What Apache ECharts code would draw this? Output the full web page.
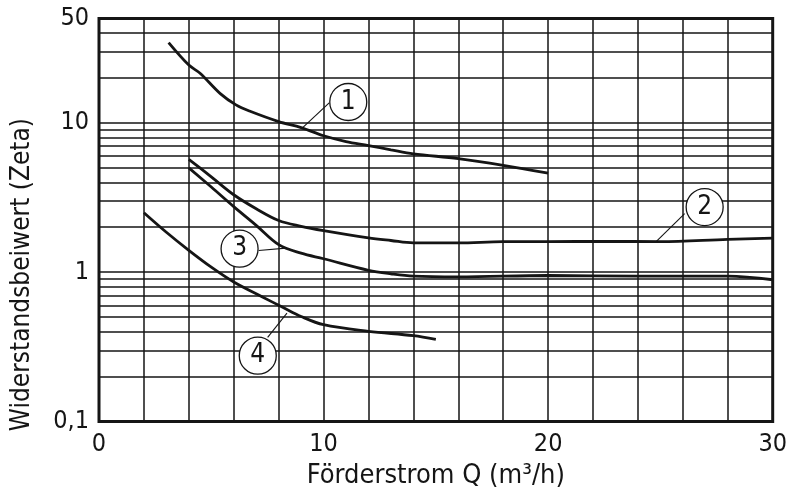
<!DOCTYPE html>
<html>
<head>
<meta charset="utf-8">
<script src="https://cdn.jsdelivr.net/npm/echarts@6/dist/echarts.min.js"></script>
<style>
  html, body { margin: 0; padding: 0; background: #fff; }
  #chart { width: 790px; height: 502px; }
</style>
</head>
<body>
<div id="chart"></div>
<script>
// Widerstandsbeiwert (Zeta) über dem Förderstrom Q, Kurven 1 bis 4
const curve1Q    = [3.1, 4, 4.5, 5.4, 6.1, 6.7, 8, 9, 10, 11, 12, 13, 14, 16, 18, 20];
const curve1Zeta = [34.5, 24.4, 21.5, 15.7, 13.2, 12.0, 10.2, 9.3, 8.2, 7.5, 7.05, 6.6, 6.2, 5.77, 5.2, 4.6];

const curve2Q    = [4, 5, 6, 7, 8, 9, 10, 12, 13, 14, 16, 18, 20, 22.5, 25, 28, 30];
const curve2Zeta = [5.7, 4.35, 3.3, 2.66, 2.22, 2.03, 1.9, 1.7, 1.63, 1.57, 1.57, 1.6, 1.6, 1.61, 1.6, 1.66, 1.69];

const curve3Q    = [4, 5, 6, 7, 8, 9, 10, 12, 13, 14, 16, 20, 24, 28, 30];
const curve3Zeta = [5.0, 3.72, 2.75, 2.06, 1.53, 1.34, 1.23, 1.03, 0.975, 0.94, 0.93, 0.95, 0.94, 0.94, 0.89];

const curve4Q    = [2, 3, 4, 5, 6, 7.3, 8.2, 9, 10, 12, 14, 15];
const curve4Zeta = [2.5, 1.85, 1.4, 1.08, 0.86, 0.68, 0.58, 0.505, 0.445, 0.402, 0.376, 0.355];

// Kennzeichnung der Kurven: Kreismittelpunkt und Hinweislinie (Kurve -> Kreisrand)
const markerNames  = ['1', '2', '3', '4'];
const markerQ      = [11.1, 26.97, 6.26, 7.07];
const markerZeta   = [13.8, 2.73, 1.436, 0.276];
const leaderFromQ    = [9.07, 24.82, 8.33, 8.37];
const leaderFromZeta = [9.3, 1.607, 1.449, 0.532];
const leaderToQ      = [10.25, 26.08, 7.11, 7.51];
const leaderToZeta   = [13.6, 2.47, 1.398, 0.366];

// Achsen
const qMin = 0, qMax = 30, qStep = 2, qLabelStep = 10;
const zetaMin = 0.1, zetaMax = 50;
const zetaGridLines = [0.2, 0.3, 0.4, 0.5, 0.6, 0.7, 0.8, 0.9, 1,
                       2, 3, 4, 5, 6, 7, 8, 9, 10, 20, 30, 40];

const FONT = "'DejaVu Sans Condensed', 'DejaVu Sans', sans-serif";
const INK = '#151515';

const zip = (xs, ys) => xs.map((x, i) => [x, ys[i]]);

const curveStyle = {
  type: 'line',
  showSymbol: false,
  symbol: 'none',
  smooth: 0.35,
  silent: true,
  z: 4,
  lineStyle: { color: INK, width: 2.8 },
  animation: false
};

const chart = echarts.init(document.getElementById('chart'), null, { renderer: 'canvas' });

chart.setOption({
  backgroundColor: '#fff',
  animation: false,
  grid: {
    left: 99, right: 15, top: 18.5, bottom: 80.5,
    show: true, borderColor: INK, borderWidth: 3, backgroundColor: 'transparent', z: 10
  },
  xAxis: {
    type: 'value',
    min: qMin, max: qMax, interval: qStep,
    name: 'Förderstrom Q (m³/h)',
    nameLocation: 'middle',
    nameGap: 54,
    nameTextStyle: { fontFamily: FONT, fontSize: 27, color: INK, verticalAlign: 'middle' },
    axisLine: { show: false },
    axisTick: { show: false },
    axisLabel: {
      fontFamily: FONT, fontSize: 25, color: INK, margin: 10,
      formatter: v => (Math.abs(v % qLabelStep) < 1e-9 ? String(v) : '')
    },
    splitLine: { show: true, lineStyle: { color: INK, width: 1.5 } }
  },
  yAxis: {
    type: 'log',
    logBase: 10,
    min: zetaMin, max: zetaMax,
    axisLine: { show: false },
    axisTick: { show: false },
    axisLabel: {
      fontFamily: FONT, fontSize: 25, color: INK, margin: 10,
      showMinLabel: true, showMaxLabel: true,
      formatter: v => String(Math.round(v * 10) / 10).replace('.', ',')
    },
    splitLine: { show: false }
  },
  graphic: [{
    type: 'text',
    left: 9, top: 118,
    rotation: Math.PI / 2,
    originX: 0, originY: 0,
    style: {
      text: 'Widerstandsbeiwert (Zeta)',
      font: '26px ' + FONT,
      fill: INK
    }
  }],
  series: [
    {
      name: 'raster',
      type: 'line',
      data: [],
      silent: true,
      z: 1,
      markLine: {
        silent: true,
        symbol: 'none',
        animation: false,
        label: { show: false },
        lineStyle: { color: INK, width: 1.5, type: 'solid' },
        data: zetaGridLines.map(v => ({ yAxis: v }))
      }
    },
    Object.assign({ name: '1', data: zip(curve1Q, curve1Zeta) }, curveStyle),
    Object.assign({ name: '2', data: zip(curve2Q, curve2Zeta) }, curveStyle),
    Object.assign({ name: '3', data: zip(curve3Q, curve3Zeta) }, curveStyle),
    Object.assign({ name: '4', data: zip(curve4Q, curve4Zeta) }, curveStyle),
    {
      name: 'kennzeichnung',
      type: 'scatter',
      silent: true,
      z: 6,
      symbol: 'circle',
      symbolSize: 37,
      itemStyle: { color: '#fff', borderColor: INK, borderWidth: 1.3, opacity: 1 },
      label: {
        show: true, position: 'inside',
        fontFamily: FONT, fontSize: 26, color: INK,
        formatter: p => p.data[2]
      },
      data: markerQ.map((q, i) => [q, markerZeta[i], markerNames[i]]),
      markLine: {
        silent: true,
        symbol: 'none',
        animation: false,
        label: { show: false },
        lineStyle: { color: INK, width: 1.1, type: 'solid' },
        data: leaderFromQ.map((q, i) => [
          { coord: [q, leaderFromZeta[i]] },
          { coord: [leaderToQ[i], leaderToZeta[i]] }
        ])
      }
    }
  ]
});
</script>
</body>
</html>
